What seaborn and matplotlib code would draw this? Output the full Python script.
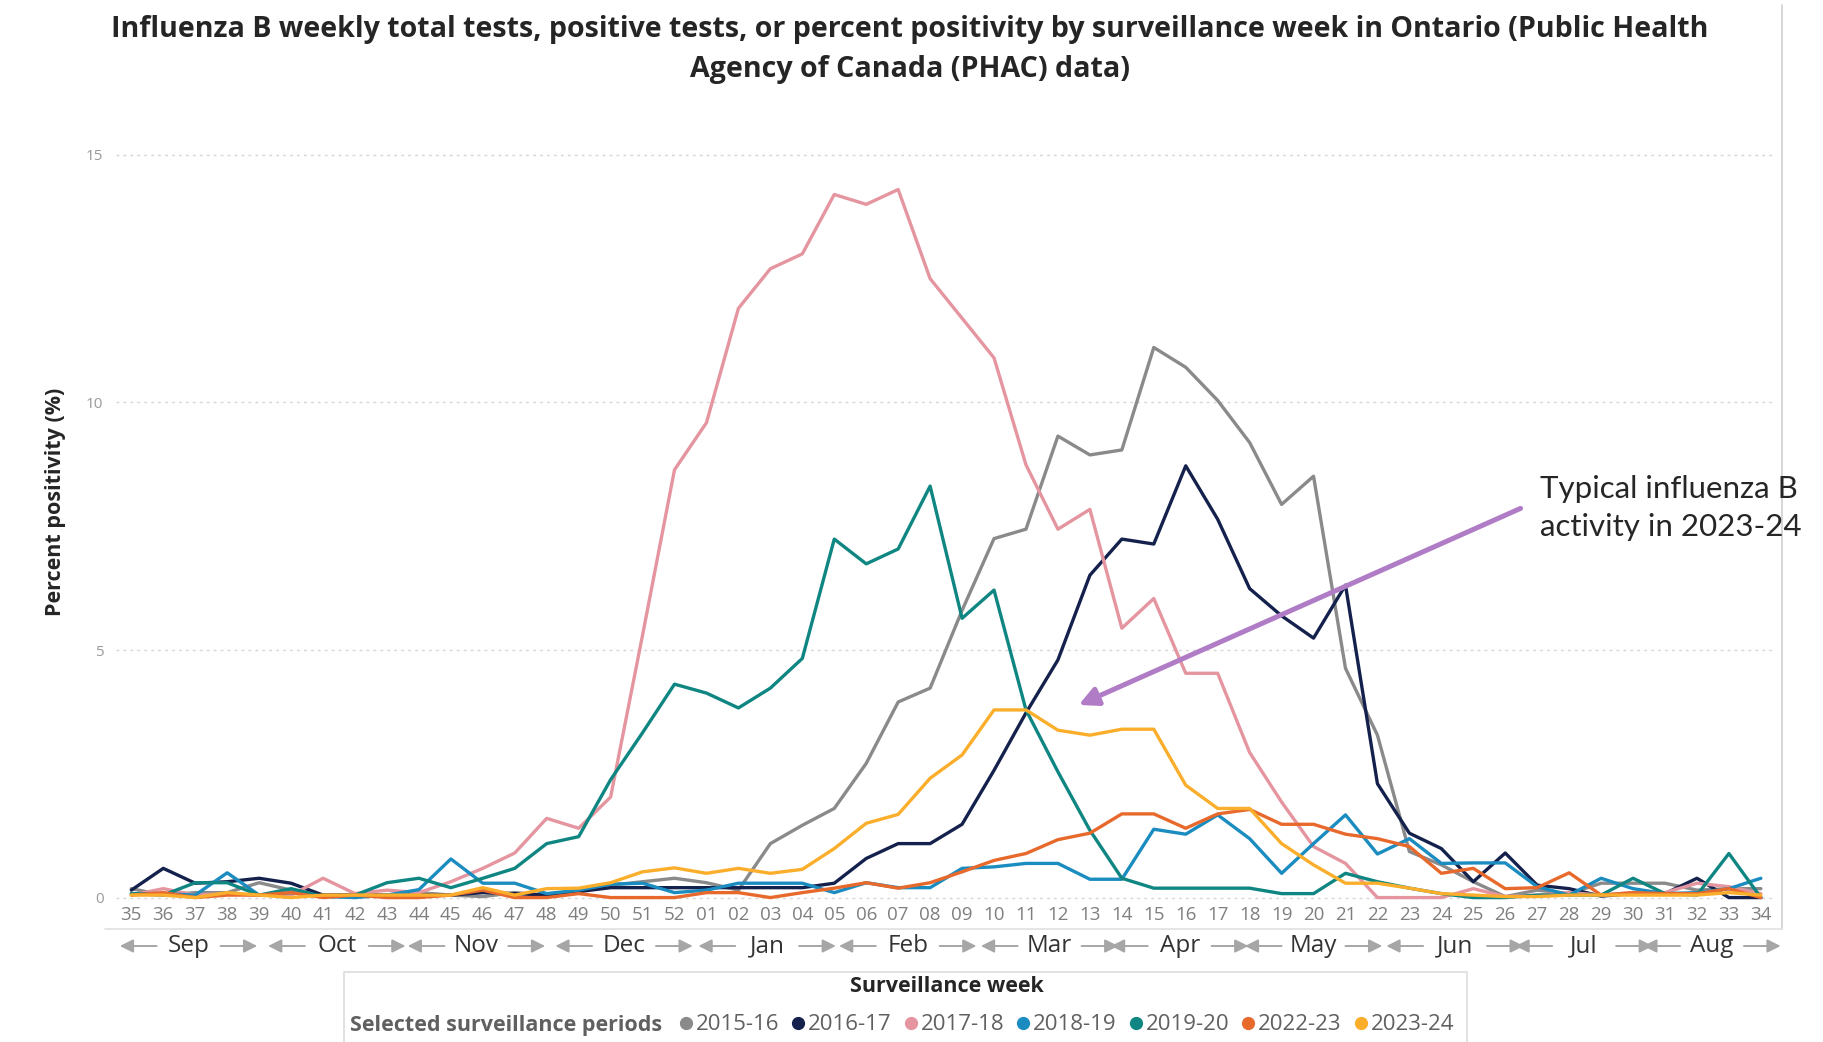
import numpy as np
import pandas as pd
import matplotlib
matplotlib.use('Agg')
import matplotlib.pyplot as plt
import matplotlib.transforms as mtransforms
from matplotlib.lines import Line2D
import seaborn as sns

# ========== DATA ==========
weeks = ['35', '36', '37', '38', '39', '40', '41', '42', '43', '44', '45', '46', '47', '48', '49', '50', '51', '52',
         '01', '02', '03', '04', '05', '06', '07', '08', '09', '10', '11', '12', '13', '14', '15', '16', '17',
         '18', '19', '20', '21', '22', '23', '24', '25', '26', '27', '28', '29', '30', '31', '32', '33', '34']

periods = ['2015-16', '2016-17', '2017-18', '2018-19', '2019-20', '2022-23', '2023-24']

pct_2015_16 = [0.18, 0.05, 0.10, 0.10, 0.30, 0.15, 0.05, 0.05, 0.05, 0.10, 0.05, 0.02, 0.10, 0.05, 0.15,
               0.25, 0.32, 0.39,
               0.30, 0.15, 1.09, 1.46, 1.80, 2.71, 3.95, 4.23, 5.80, 7.25,
               7.44, 9.32, 8.94, 9.04, 11.11, 10.71, 10.04, 9.19, 7.94, 8.51, 4.63, 3.28,
               0.93, 0.66, 0.32, 0.02, 0.15, 0.08, 0.29, 0.29, 0.29, 0.15, 0.18, 0.18]
pct_2016_17 = [0.15, 0.59, 0.29, 0.32, 0.39, 0.29, 0.05, 0.05, 0.05, 0.05, 0.05, 0.10, 0.08, 0.05, 0.12,
               0.20, 0.20, 0.20,
               0.20, 0.20, 0.20, 0.20, 0.29, 0.79, 1.09, 1.09, 1.48, 2.57,
               3.73, 4.80, 6.51, 7.24, 7.14, 8.72, 7.64, 6.24, 5.69, 5.24, 6.31, 2.30,
               1.30, 0.99, 0.32, 0.90, 0.25, 0.18, 0.03, 0.08, 0.08, 0.39, 0.00, 0.00]
pct_2017_18 = [0.05, 0.18, 0.05, 0.08, 0.05, 0.05, 0.39, 0.08, 0.15, 0.10, 0.32, 0.59, 0.90, 1.60, 1.40,
               2.03, 5.30, 8.64,
               9.59, 11.90, 12.70, 13.00, 14.20, 14.00, 14.30, 12.50, 11.70, 10.90,
               8.74, 7.44, 7.84, 5.44, 6.04, 4.53, 4.53, 2.93, 1.93, 1.03, 0.69, 0.00,
               0.00, 0.00, 0.18, 0.02, 0.05, 0.10, 0.05, 0.10, 0.10, 0.29, 0.22, 0.08]
pct_2018_19 = [0.08, 0.08, 0.05, 0.50, 0.05, 0.10, 0.02, 0.00, 0.05, 0.16, 0.78, 0.29, 0.29, 0.08, 0.15,
               0.27, 0.29, 0.10,
               0.15, 0.29, 0.29, 0.29, 0.10, 0.30, 0.20, 0.20, 0.59, 0.62,
               0.69, 0.69, 0.37, 0.37, 1.38, 1.28, 1.67, 1.19, 0.49, 1.09, 1.67, 0.88,
               1.19, 0.69, 0.70, 0.70, 0.22, 0.05, 0.39, 0.18, 0.08, 0.10, 0.18, 0.39]
pct_2019_20 = [0.08, 0.05, 0.30, 0.30, 0.05, 0.18, 0.02, 0.05, 0.30, 0.39, 0.20, 0.39, 0.59, 1.09, 1.23,
               2.38, 3.33, 4.31,
               4.13, 3.83, 4.23, 4.83, 7.24, 6.74, 7.04, 8.31, 5.64, 6.21,
               3.79, 2.54, 1.36, 0.39, 0.19, 0.19, 0.19, 0.19, 0.08, 0.08, 0.49, 0.32,
               0.19, 0.08, 0.00, 0.00, 0.05, 0.05, 0.05, 0.39, 0.08, 0.05, 0.89, 0.00]
pct_2022_23 = [0.05, 0.10, 0.00, 0.05, 0.05, 0.10, 0.00, 0.05, 0.00, 0.00, 0.05, 0.15, 0.00, 0.00, 0.08,
               0.00, 0.00, 0.00,
               0.10, 0.10, 0.00, 0.10, 0.19, 0.30, 0.19, 0.30, 0.52, 0.75,
               0.89, 1.17, 1.30, 1.69, 1.69, 1.40, 1.69, 1.78, 1.48, 1.48, 1.28, 1.19,
               1.03, 0.49, 0.59, 0.18, 0.20, 0.50, 0.05, 0.10, 0.08, 0.08, 0.18, 0.00]
pct_2023_24 = [0.05, 0.05, 0.00, 0.10, 0.05, 0.00, 0.05, 0.05, 0.05, 0.05, 0.05, 0.20, 0.05, 0.18, 0.19,
               0.30, 0.52, 0.60,
               0.49, 0.59, 0.49, 0.57, 0.99, 1.50, 1.68, 2.41, 2.88, 3.79,
               3.79, 3.38, 3.28, 3.40, 3.40, 2.27, 1.80, 1.80, 1.09, 0.66, 0.29, 0.29,
               0.19, 0.08, 0.05, 0.02, 0.02, 0.05, 0.05, 0.05, 0.05, 0.05, 0.10, 0.05]

months = ['Sep', 'Oct', 'Nov', 'Dec', 'Jan', 'Feb', 'Mar', 'Apr', 'May', 'Jun', 'Jul', 'Aug']
month_centres = [1.79, 6.43, 10.80, 15.42, 19.90, 24.30, 28.74, 32.81, 37.0, 41.43, 45.47, 49.47]

colours = ['#8a8a8a', '#15214d', '#e5959f', '#1b8cbf', '#0f8682', '#e8692c', '#fbae2b']

# ========== BUILD LONG TABLE ==========
series = [pct_2015_16, pct_2016_17, pct_2017_18, pct_2018_19, pct_2019_20, pct_2022_23, pct_2023_24]
frames = []
for p, vals in zip(periods, series):
    frames.append(pd.DataFrame({'idx': np.arange(len(weeks)), 'pct': vals, 'period': p}))
df = pd.concat(frames, ignore_index=True)
palette = dict(zip(periods, colours))

# ========== PLOT ==========
sns.set_theme(style='white')
plt.rcParams['font.family'] = ['Open Sans', 'DejaVu Sans']

W, H = 1823, 1042
fig = plt.figure(figsize=(W / 100, H / 100), dpi=100)
ax = fig.add_axes([116 / W, 1 - 905 / H, (1773 - 116) / W, (905 - 140) / H])

sns.lineplot(data=df, x='idx', y='pct', hue='period', palette=palette, hue_order=periods,
             linewidth=2.4, legend=False, ax=ax)

ax.set_xlim(-0.48, 51.38)
ax.set_ylim(-0.15, 15.3)
ax.set_yticks([0, 5, 10, 15])
ax.set_yticklabels(['0', '5', '10', '15'], color='#9a9a9a', fontsize=11)
ax.set_xticks(np.arange(len(weeks)))
ax.set_xticklabels(weeks, color='#7f7f7f', fontsize=13.5)
ax.tick_params(axis='both', length=0)
ax.tick_params(axis='y', pad=9)
ax.tick_params(axis='x', pad=1)
ax.set_xlabel('')
ax.set_ylabel('')
for s in ax.spines.values():
    s.set_visible(False)
for v in [0, 5, 10, 15]:
    ax.axhline(v, color='#d6d6d6', lw=1, ls=(0, (2, 3)), zorder=0)

# month row with arrows
trans = mtransforms.blended_transform_factory(ax.transData, fig.transFigure)
ym = 1 - 946 / H
arrow_kw = dict(arrowstyle='-|>', color='#a6a6a6', lw=1.4, mutation_scale=20, shrinkA=0, shrinkB=0)
for m, c in zip(months, month_centres):
    ax.text(c, ym, m, transform=trans, ha='center', va='center', fontsize=17.5, color='#333333', clip_on=False)
    ax.annotate('', xy=(c - 2.15, ym), xytext=(c - 1.0, ym), xycoords=trans, textcoords=trans,
                arrowprops=arrow_kw, annotation_clip=False)
    ax.annotate('', xy=(c + 2.15, ym), xytext=(c + 1.0, ym), xycoords=trans, textcoords=trans,
                arrowprops=arrow_kw, annotation_clip=False)

# annotation
ax.annotate('', xy=(29.65, 3.89), xytext=(43.48, 7.86),
            arrowprops=dict(arrowstyle='-|>', color='#b07cc6', lw=3.6, mutation_scale=28,
                            shrinkA=0, shrinkB=0))
fig.text(1540 / W, 1 - 508 / H, 'Typical influenza B\nactivity in 2023-24', ha='left', va='center',
         fontsize=22.5, color='#262626', family=['Lato', 'DejaVu Sans'], linespacing=1.45)

# titles
fig.text(910 / W, 1 - 50 / H,
         'Influenza B weekly total tests, positive tests, or percent positivity by surveillance week in Ontario (Public Health\n'
         'Agency of Canada (PHAC) data)',
         ha='center', va='center', fontsize=20.6, fontweight='bold', color='#252525', linespacing=1.5)
fig.text(55 / W, 1 - 502 / H, 'Percent positivity (%)', rotation=90, ha='center', va='center',
         fontsize=15.5, fontweight='bold', color='#252525')
fig.text(947 / W, 1 - 986 / H, 'Surveillance week', ha='center', va='center',
         fontsize=15.5, fontweight='bold', color='#252525')

# frame lines
fig.add_artist(Line2D([1782 / W, 1782 / W], [1 - 5 / H, 1 - 929 / H], color='#d0d0d0', lw=1.2))
fig.add_artist(Line2D([105 / W, 1782 / W], [1 - 929 / H, 1 - 929 / H], color='#e0e0e0', lw=1.2))
fig.add_artist(Line2D([344 / W, 344 / W, 1467 / W, 1467 / W], [0, 1 - 972 / H, 1 - 972 / H, 0],
                      color='#dcdcdc', lw=1.2))

# legend
fig.text(350 / W, 1 - 1025 / H, 'Selected surveillance periods', ha='left', va='center',
         fontsize=15.5, fontweight='bold', color='#606060')
handles = [Line2D([], [], marker='o', ls='none', color=c, markersize=8.5) for c in colours]
fig.legend(handles, periods, loc='center left', bbox_to_anchor=(677 / W, 1 - 1025 / H), ncol=7,
           frameon=False, handletextpad=0.05, columnspacing=0.45, handlelength=0.8,
           borderpad=0, borderaxespad=0, prop={'size': 16}, labelcolor='#606060')

fig.savefig('out.png', dpi=100)
